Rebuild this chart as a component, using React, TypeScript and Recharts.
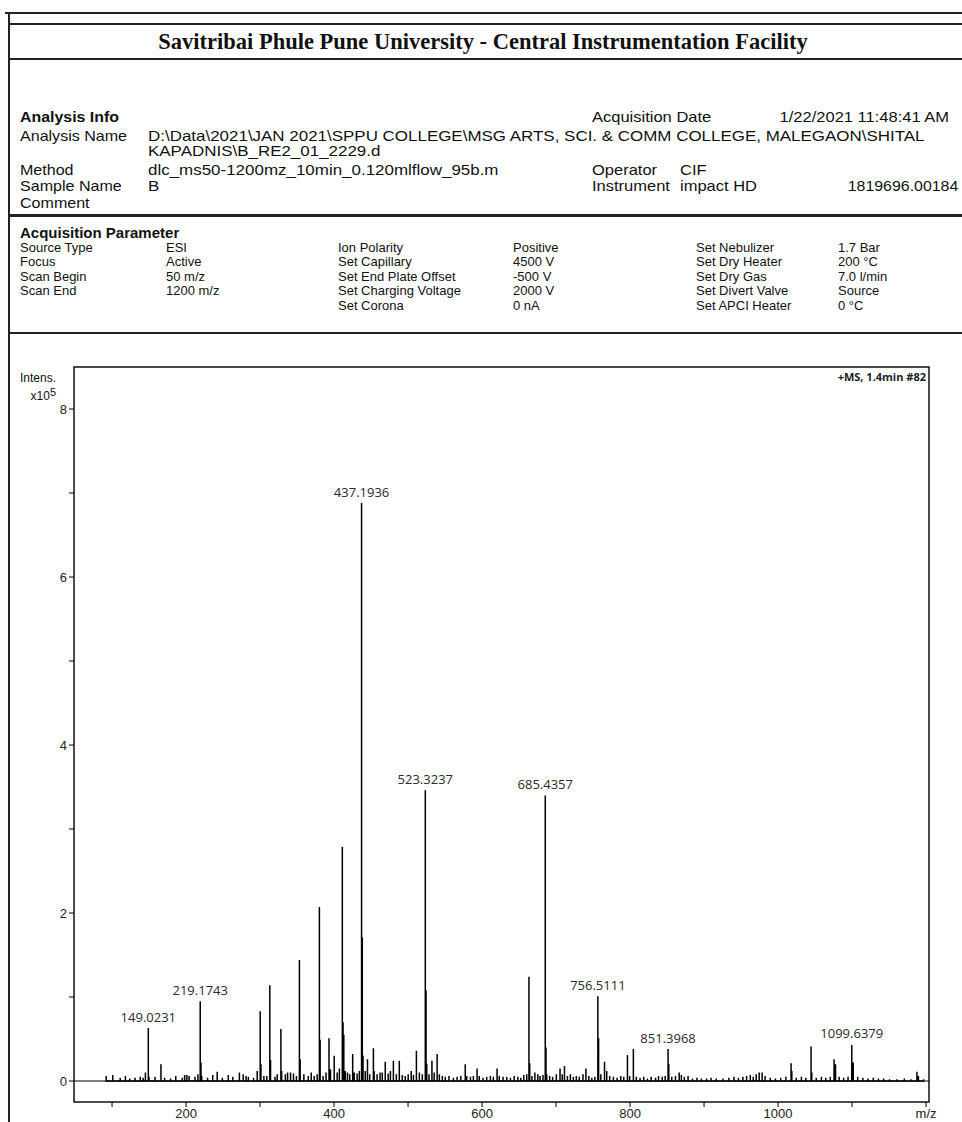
import React from 'react';
import { ComposedChart, Line, Scatter, XAxis, YAxis, ReferenceLine, ReferenceArea, LabelList } from 'recharts';

// m/z range shown on the x axis and intensity range (x10^5) on the y axis
const MZ_RANGE: [number, number] = [48.6, 1204];
const INT_RANGE: [number, number] = [-0.25, 8.5];
const X_TICKS = [100, 200, 300, 400, 500, 600, 700, 800, 900, 1000, 1100, 1200];
const Y_TICKS = [0, 1, 2, 3, 4, 5, 6, 7, 8];

// [m/z, intensity x10^5]
const PEAKS: [number, number][] = [
  [92.1, 0.06], [101.0, 0.07], [111.0, 0.04], [118.1, 0.06], [124.0, 0.03], [131.1, 0.04],
  [138.1, 0.05], [142.0, 0.04], [145.1, 0.1], [149.0231, 0.63], [150.0, 0.05], [158.1, 0.05],
  [166.1, 0.2], [171.0, 0.04], [179.1, 0.03], [186.1, 0.06], [195.0, 0.04], [198.1, 0.07],
  [201.1, 0.07], [204.1, 0.06], [212.1, 0.05], [216.1, 0.08], [219.1743, 0.95], [220.18, 0.22],
  [221.2, 0.06], [229.1, 0.04], [236.1, 0.07], [242.1, 0.11], [249.1, 0.04], [257.1, 0.07],
  [263.2, 0.05], [272.1, 0.1], [277.2, 0.08], [281.1, 0.06], [284.2, 0.05], [291.2, 0.04],
  [296.2, 0.12], [300.2, 0.83], [301.2, 0.2], [305.2, 0.06], [309.2, 0.06], [313.2, 1.14],
  [314.2, 0.25], [320.2, 0.05], [323.2, 0.08], [328.2, 0.62], [329.2, 0.12], [334.2, 0.08],
  [337.2, 0.1], [341.2, 0.1], [345.2, 0.09], [349.2, 0.06], [353.2, 1.44], [354.2, 0.26],
  [359.2, 0.08], [365.2, 0.06], [369.2, 0.1], [373.2, 0.06], [377.2, 0.08], [380.2, 2.07],
  [381.2, 0.49], [385.2, 0.06], [389.2, 0.1], [393.2, 0.51], [395.2, 0.14], [400.2, 0.3],
  [404.2, 0.1], [407.2, 0.15], [411.2, 2.79], [412.2, 0.7], [413.2, 0.55], [415.2, 0.12],
  [418.2, 0.1], [421.2, 0.08], [425.2, 0.32], [427.2, 0.1], [431.2, 0.09], [434.2, 0.12],
  [437.1936, 6.88], [438.19, 1.71], [439.2, 0.3], [442.2, 0.12], [445.2, 0.26], [448.2, 0.08],
  [453.2, 0.39], [454.2, 0.12], [458.2, 0.08], [462.2, 0.1], [465.2, 0.1], [469.2, 0.23],
  [473.2, 0.09], [476.2, 0.12], [480.2, 0.24], [484.2, 0.08], [488.2, 0.24], [492.2, 0.07],
  [496.2, 0.06], [500.2, 0.08], [504.3, 0.12], [507.3, 0.07], [511.3, 0.36], [515.3, 0.1],
  [519.3, 0.08], [523.3237, 3.46], [524.33, 1.08], [525.3, 0.2], [528.3, 0.08], [532.3, 0.24],
  [535.3, 0.1], [539.3, 0.32], [542.3, 0.08], [546.3, 0.06], [550.3, 0.05], [555.3, 0.06],
  [561.3, 0.04], [566.3, 0.05], [571.3, 0.06], [577.3, 0.2], [579.3, 0.06], [584.3, 0.05],
  [588.3, 0.06], [593.3, 0.15], [596.3, 0.06], [601.3, 0.04], [606.3, 0.05], [611.3, 0.06],
  [615.3, 0.05], [620.3, 0.15], [623.3, 0.06], [628.4, 0.05], [633.4, 0.05], [638.4, 0.04],
  [643.4, 0.06], [648.4, 0.05], [652.4, 0.04], [656.4, 0.07], [660.4, 0.08], [663.4, 1.24],
  [664.4, 0.21], [667.4, 0.06], [671.4, 0.1], [675.4, 0.08], [678.4, 0.06], [682.4, 0.07],
  [685.4357, 3.4], [686.44, 0.4], [687.4, 0.08], [691.4, 0.06], [695.4, 0.05], [700.4, 0.08],
  [705.4, 0.15], [708.4, 0.08], [711.4, 0.18], [715.4, 0.06], [719.4, 0.08], [723.4, 0.05],
  [727.4, 0.06], [731.4, 0.05], [736.4, 0.08], [740.4, 0.15], [744.4, 0.06], [748.4, 0.04],
  [752.5, 0.05], [756.5111, 1.01], [757.51, 0.51], [760.5, 0.08], [765.5, 0.23], [768.5, 0.12],
  [772.5, 0.06], [777.5, 0.05], [782.5, 0.04], [787.5, 0.06], [791.5, 0.05], [796.5, 0.31],
  [799.5, 0.06], [804.5, 0.38], [808.5, 0.05], [813.5, 0.04], [818.5, 0.05], [823.5, 0.03],
  [828.5, 0.05], [834.5, 0.04], [838.5, 0.06], [843.5, 0.05], [847.5, 0.06], [851.3968, 0.38],
  [852.4, 0.2], [856.4, 0.05], [861.4, 0.06], [866.4, 0.1], [869.4, 0.07], [873.4, 0.05],
  [878.4, 0.06], [884.4, 0.03], [890.4, 0.04], [896.4, 0.03], [903.4, 0.03], [909.5, 0.04],
  [916.5, 0.03], [925.5, 0.03], [933.5, 0.04], [940.5, 0.05], [946.5, 0.04], [952.5, 0.05],
  [957.5, 0.06], [962.5, 0.07], [966.5, 0.05], [970.5, 0.08], [974.5, 0.1], [978.5, 0.1],
  [982.5, 0.06], [989.5, 0.04], [996.5, 0.03], [1003.6, 0.04], [1010.6, 0.05], [1017.6, 0.21],
  [1018.6, 0.12], [1024.6, 0.04], [1031.6, 0.05], [1037.6, 0.04], [1044.6, 0.41], [1045.6, 0.1],
  [1051.6, 0.04], [1058.6, 0.05], [1064.6, 0.04], [1070.6, 0.05], [1075.7, 0.26], [1077.7, 0.2],
  [1082.6, 0.05], [1088.6, 0.04], [1094.6, 0.05], [1099.6379, 0.43], [1101.6, 0.22], [1107.6, 0.05],
  [1114.6, 0.04], [1121.6, 0.03], [1128.7, 0.04], [1135.7, 0.03], [1142.7, 0.03], [1150.7, 0.02],
  [1160.7, 0.02], [1170.7, 0.03], [1179.7, 0.02], [1187.7, 0.11], [1189.7, 0.06], [1196.7, 0.02],
];

const LABELLED = [149.0231, 219.1743, 437.1936, 523.3237, 685.4357, 756.5111, 851.3968, 1099.6379];

const ANALYSIS_INFO: [string, string][] = [
  ['Analysis Name', 'D:\\Data\\2021\\JAN 2021\\SPPU COLLEGE\\MSG ARTS, SCI. & COMM COLLEGE, MALEGAON\\SHITAL'],
  ['', 'KAPADNIS\\B_RE2_01_2229.d'],
  ['Method', 'dlc_ms50-1200mz_10min_0.120mlflow_95b.m'],
  ['Sample Name', 'B'],
  ['Comment', ''],
];
const INFO_Y = [136, 151, 170, 186, 203];

const ACQ_COLS: string[][] = [
  ['Source Type', 'Focus', 'Scan Begin', 'Scan End'],
  ['ESI', 'Active', '50 m/z', '1200 m/z'],
  ['Ion Polarity', 'Set Capillary', 'Set End Plate Offset', 'Set Charging Voltage', 'Set Corona'],
  ['Positive', '4500 V', '-500 V', '2000 V', '0 nA'],
  ['Set Nebulizer', 'Set Dry Heater', 'Set Dry Gas', 'Set Divert Valve', 'Set APCI Heater'],
  ['1.7 Bar', '200 °C', '7.0 l/min', 'Source', '0 °C'],
];
const ACQ_COL_X = [20, 166, 338, 513, 696, 838];

// stick spectrum drawn as one polyline: baseline -> apex -> baseline for every peak
const stickData = PEAKS.flatMap(([mz, i]) => [
  { mz, i: 0 },
  { mz, i },
  { mz, i: 0 },
]);
const labelData = PEAKS.filter(([mz]) => LABELLED.includes(mz)).map(([mz, i]) => ({ mz, i, label: mz.toFixed(4) }));

const Txt: React.FC<{
  x: number; y: number; size?: number; bold?: boolean; right?: boolean; sx?: number; children: React.ReactNode;
}> = ({ x, y, size = 14, bold, right, sx = 1, children }) => (
  <div
    style={{
      position: 'absolute',
      ...(right ? { right: 962 - x } : { left: x }),
      top: y - size * 0.55,
      fontSize: size,
      lineHeight: `${size}px`,
      fontWeight: bold ? 700 : 400,
      whiteSpace: 'nowrap',
      transform: sx !== 1 ? `scaleX(${sx})` : undefined,
      transformOrigin: right ? 'right center' : 'left center',
    }}
  >
    {children}
  </div>
);

const HLine: React.FC<{ y: number; h?: number }> = ({ y, h = 2 }) => (
  <div style={{ position: 'absolute', left: 10, top: y, width: 952, height: h, background: '#222' }} />
);

export default function App() {
  const tickStyle = { fontSize: 13, fontFamily: 'Liberation Sans, Arial, sans-serif', fill: '#222' };
  return (
    <div
      style={{
        position: 'absolute',
        left: 0,
        top: 0,
        width: 962,
        height: 1122,
        background: '#fff',
        color: '#111',
        fontFamily: 'Liberation Sans, Arial, sans-serif',
        overflow: 'hidden',
      }}
    >
      {/* page frame */}
      <div style={{ position: 'absolute', left: 5, top: 12, width: 957, height: 2, background: '#222' }} />
      <div style={{ position: 'absolute', left: 8, top: 12, width: 2, height: 1110, background: '#222' }} />
      <HLine y={23} />
      <HLine y={58} />
      <HLine y={214} h={3} />
      <HLine y={332} />

      <div
        style={{
          position: 'absolute',
          left: 0,
          width: 966,
          top: 27,
          textAlign: 'center',
          fontFamily: 'Liberation Serif, Times New Roman, serif',
          fontWeight: 700,
          fontSize: 22.5,
          lineHeight: '30px',
        }}
      >
        Savitribai Phule Pune University - Central Instrumentation Facility
      </div>

      <Txt x={20} y={117} size={15} sx={1.06} bold>Analysis Info</Txt>
      {ANALYSIS_INFO.map(([k, v], idx) => (
        <React.Fragment key={idx}>
          {k && <Txt x={20} y={INFO_Y[idx]} size={15} sx={1.07}>{k}</Txt>}
          {v && <Txt x={148} y={INFO_Y[idx]} size={15} sx={1.13}>{v}</Txt>}
        </React.Fragment>
      ))}
      <Txt x={592} y={117} size={15} sx={1.1}>Acquisition Date</Txt>
      <Txt x={949} y={117} size={15} sx={1.1} right>1/22/2021 11:48:41 AM</Txt>
      <Txt x={592} y={170} size={15} sx={1.1}>Operator</Txt>
      <Txt x={680} y={170} size={15} sx={1.1}>CIF</Txt>
      <Txt x={592} y={186} size={15} sx={1.1}>Instrument</Txt>
      <Txt x={680} y={186} size={15} sx={1.1}>impact HD</Txt>
      <Txt x={958} y={186} size={15} sx={1.06} right>1819696.00184</Txt>

      <Txt x={20} y={233} size={15} bold>Acquisition Parameter</Txt>
      {ACQ_COLS.map((col, ci) =>
        col.map((s, ri) => (
          <Txt key={`${ci}-${ri}`} x={ACQ_COL_X[ci]} y={248 + ri * 14.5} size={13}>
            {s}
          </Txt>
        ))
      )}

      {/* y axis caption */}
      <div style={{ position: 'absolute', left: 0, width: 56, top: 371, textAlign: 'right', fontSize: 12, lineHeight: '14px' }}>
        Intens.
      </div>
      <div style={{ position: 'absolute', left: 0, width: 56, top: 385, textAlign: 'right', fontSize: 12, lineHeight: '14px' }}>
        x10<sup style={{ fontSize: 11, verticalAlign: '4px' }}>5</sup>
      </div>
      <div
        style={{
          position: 'absolute',
          right: 962 - 926,
          top: 370,
          fontSize: 11,
          fontWeight: 700,
          fontFamily: 'Open Sans, sans-serif',
          color: '#222',
          lineHeight: '14px',
        }}
      >
        +MS, 1.4min #82
      </div>

      <div style={{ position: 'absolute', left: 0, top: 330 }}>
        <ComposedChart width={962} height={792} margin={{ top: 37, right: 33, left: 0, bottom: 0 }}>
          <XAxis
            dataKey="mz"
            type="number"
            domain={MZ_RANGE}
            ticks={X_TICKS}
            allowDataOverflow
            height={20}
            axisLine={false}
            tickLine={{ stroke: '#000' }}
            tickSize={5}
            tick={tickStyle}
            tickFormatter={(v: number) => (v === 1200 ? 'm/z' : v % 200 === 0 ? String(v) : '')}
          />
          <YAxis
            type="number"
            domain={INT_RANGE}
            ticks={Y_TICKS}
            allowDataOverflow
            width={74}
            axisLine={false}
            tickLine={{ stroke: '#000' }}
            tickSize={5}
            tick={tickStyle}
            tickFormatter={(v: number) => (v % 2 === 0 ? String(v) : '')}
          />
          <ReferenceArea
            x1={MZ_RANGE[0]}
            x2={MZ_RANGE[1]}
            y1={INT_RANGE[0]}
            y2={INT_RANGE[1]}
            fill="none"
            fillOpacity={0}
            stroke="#111"
            strokeWidth={1.5}
            ifOverflow="visible"
          />
          <ReferenceLine y={0} stroke="#000" strokeWidth={1.2} />
          <Line
            data={stickData}
            dataKey="i"
            type="linear"
            stroke="#000"
            strokeWidth={1.5}
            dot={false}
            activeDot={false}
            isAnimationActive={false}
          />
          <Scatter data={labelData} dataKey="i" shape={() => <g />} isAnimationActive={false}>
            <LabelList
              dataKey="label"
              position="top"
              offset={2}
              fill="#2a2a2a"
              fontSize={13}
              fontFamily="Open Sans, sans-serif"
            />
          </Scatter>
        </ComposedChart>
      </div>
    </div>
  );
}
